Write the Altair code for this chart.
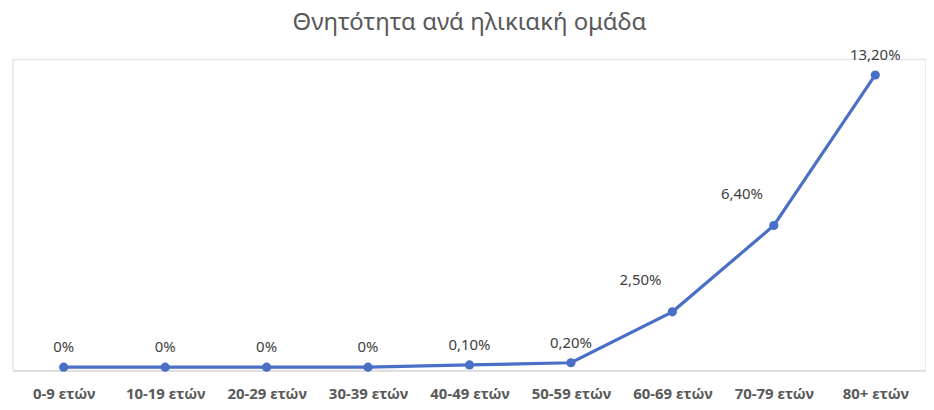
import altair as alt
import pandas as pd

categories = ["0-9 ετών", "10-19 ετών", "20-29 ετών", "30-39 ετών", "40-49 ετών",
              "50-59 ετών", "60-69 ετών", "70-79 ετών", "80+ ετών"]
values = [0, 0, 0, 0, 0.1, 0.2, 2.5, 6.4, 13.2]
labels = ["0%", "0%", "0%", "0%", "0,10%", "0,20%", "2,50%", "6,40%", "13,20%"]
shifted = ["60-69 ετών", "70-79 ετών"]

df = pd.DataFrame({"group": categories, "value": values, "label": labels})

FONT = "Noto Sans"
BLUE = "#4A6FC6"

x = alt.X("group:N", sort=categories,
          scale=alt.Scale(type="point", padding=0.5),
          axis=alt.Axis(title=None, labelAngle=0, ticks=False, labelFontWeight="bold",
                        labelFontSize=15, labelColor="#595959", labelFont=FONT,
                        domainColor="#D9D9D9", domainWidth=1.5, labelPadding=16))
y = alt.Y("value:Q", scale=alt.Scale(domain=[-0.15, 13.9], nice=False, zero=False), axis=None)

base = alt.Chart(df).encode(x=x, y=y)

line = base.mark_line(color=BLUE, strokeWidth=3.2)
pts = base.mark_circle(color=BLUE, size=85, opacity=1)
txt_main = base.transform_filter(
    ~alt.FieldOneOfPredicate(field="group", oneOf=shifted)
).mark_text(dy=-20, fontSize=15, font=FONT, color="#404040").encode(text="label:N")
txt_side = base.transform_filter(
    alt.FieldOneOfPredicate(field="group", oneOf=shifted)
).mark_text(dx=-32, dy=-32, fontSize=15, font=FONT, color="#404040").encode(text="label:N")

chart = alt.layer(line, pts, txt_main, txt_side).properties(
    width=916, height=312,
    title=alt.TitleParams("Θνητότητα ανά ηλικιακή ομάδα", font=FONT, fontSize=24,
                          fontWeight="normal", color="#595959", offset=13,
                          frame="group"),
    autosize=alt.AutoSizeParams(type="none"),
    padding={"left": 5, "top": 51, "right": 0, "bottom": 36},
).configure_view(stroke="#E6E8F0", strokeWidth=1.5)

chart.save("out.html", embed_options={"renderer": "svg", "actions": False})
